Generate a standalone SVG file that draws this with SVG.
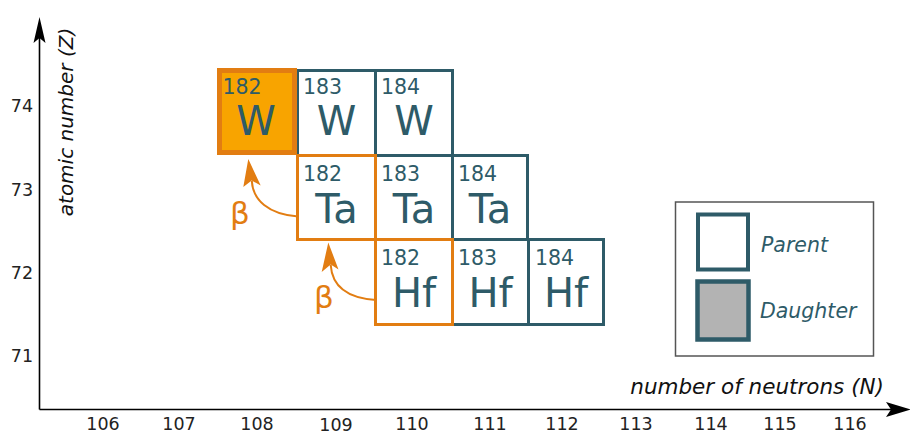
<svg xmlns="http://www.w3.org/2000/svg" width="910" height="434" viewBox="0 0 910 434">
<style>
text{font-family:"DejaVu Sans","Verdana",sans-serif}
.box{fill:#ffffff;stroke:#2e5b68;stroke-width:3}
.obox{fill:none;stroke:#e27d12;stroke-width:3}
.num{font-size:20.5px;fill:#2e5b68}
.sym{font-size:40px;fill:#2e5b68;text-anchor:middle}
.tick{font-size:17.5px;fill:#222;text-anchor:middle}
.ax{font-size:20px;font-style:italic;fill:#111}
.beta{font-size:31px;fill:#e27d12;text-anchor:middle}
.leg{font-size:20.5px;font-style:italic;fill:#2e5b68}
.arr{fill:none;stroke:#e27d12;stroke-width:2}
.head{fill:#e27d12}
</style>
<rect width="910" height="434" fill="#ffffff"/>
<g id="axes">
<line x1="39.5" y1="409.5" x2="39.5" y2="36" stroke="#000" stroke-width="1.6"/>
<polygon points="39.5,17 45.5,43 39.5,38 33.5,43" fill="#000"/>
<line x1="39.5" y1="409.5" x2="892" y2="409.5" stroke="#000" stroke-width="1.6"/>
<polygon points="911,409.5 886,402 891,409.5 886,417" fill="#000"/>
<text class="ax" transform="translate(73,122) rotate(-90)" text-anchor="middle">atomic number (Z)</text>
<text class="ax" x="884" y="394" text-anchor="end" style="font-size:21.5px">number of neutrons (N)</text>
<text class="tick" x="22" y="112">74</text>
<text class="tick" x="22" y="196">73</text>
<text class="tick" x="22" y="279">72</text>
<text class="tick" x="22" y="362">71</text>
<text class="tick" x="103" y="430">106</text>
<text class="tick" x="179" y="430">107</text>
<text class="tick" x="257" y="430">108</text>
<text class="tick" x="336" y="431">109</text>
<text class="tick" x="412" y="430">110</text>
<text class="tick" x="490" y="430">111</text>
<text class="tick" x="562" y="430">112</text>
<text class="tick" x="636" y="430">113</text>
<text class="tick" x="711" y="430">114</text>
<text class="tick" x="780" y="430">115</text>
<text class="tick" x="850" y="430">116</text>
</g>
<g id="W183"><rect class="box" x="297.5" y="70.5" width="78" height="85"/><text class="num" x="303" y="94">183</text><text class="sym" x="336.5" y="135">W</text></g>
<g id="W184"><rect class="box" x="375.5" y="70.5" width="77" height="85"/><text class="num" x="381" y="94">184</text><text class="sym" x="414" y="135">W</text></g>
<g id="Ta183"><rect class="box" x="375.5" y="155.5" width="77" height="84"/><text class="num" x="381" y="180.5">183</text><text class="sym" x="414" y="223">Ta</text></g>
<g id="Ta184"><rect class="box" x="452.5" y="155.5" width="75" height="84"/><text class="num" x="458" y="180.5">184</text><text class="sym" x="490" y="223">Ta</text></g>
<g id="Hf183"><rect class="box" x="452.5" y="239.5" width="76" height="85"/><text class="num" x="458" y="265">183</text><text class="sym" x="490.5" y="306.5">Hf</text></g>
<g id="Hf184"><rect class="box" x="528.5" y="239.5" width="75" height="85"/><text class="num" x="535" y="265">184</text><text class="sym" x="566" y="306.5">Hf</text></g>
<g id="Ta182"><rect class="obox" x="297.5" y="155.5" width="78" height="84"/><text class="num" x="303" y="181">182</text><text class="sym" x="336.5" y="223">Ta</text></g>
<g id="Hf182"><rect class="obox" x="375.5" y="239.5" width="77" height="85"/><text class="num" x="381" y="265">182</text><text class="sym" x="414" y="306.5">Hf</text></g>
<g id="W182"><rect x="219.5" y="70.5" width="75" height="82" fill="#f8a400" stroke="#e27d12" stroke-width="5"/><text class="num" x="222.5" y="93.5">182</text><text class="sym" x="256" y="135">W</text></g>
<g id="connectors">
<path class="arr" d="M298,216.5 C268,214 253,200 251.8,181"/>
<polygon class="head" points="248.3,159 260.7,185.5 251.7,180.5 243.3,187"/>
<path class="arr" d="M376,300 C346,298 332,285 330.7,265"/>
<polygon class="head" points="328.3,242.5 338.5,269.5 330.7,264.5 321.7,272"/>
<text class="beta" x="240" y="224">β</text>
<text class="beta" x="324" y="308">β</text>
</g>
<g id="legend">
<rect x="675.5" y="202" width="198" height="154" fill="#fff" stroke="#555" stroke-width="1.5"/>
<rect x="698" y="214.5" width="50" height="55" fill="#fff" stroke="#2e5b68" stroke-width="4"/>
<rect x="697.5" y="281.5" width="51" height="58" fill="#b3b3b3" stroke="#2e5b68" stroke-width="4.5"/>
<text class="leg" x="761" y="251.5">Parent</text>
<text class="leg" x="760" y="317.5">Daughter</text>
</g>
</svg>
